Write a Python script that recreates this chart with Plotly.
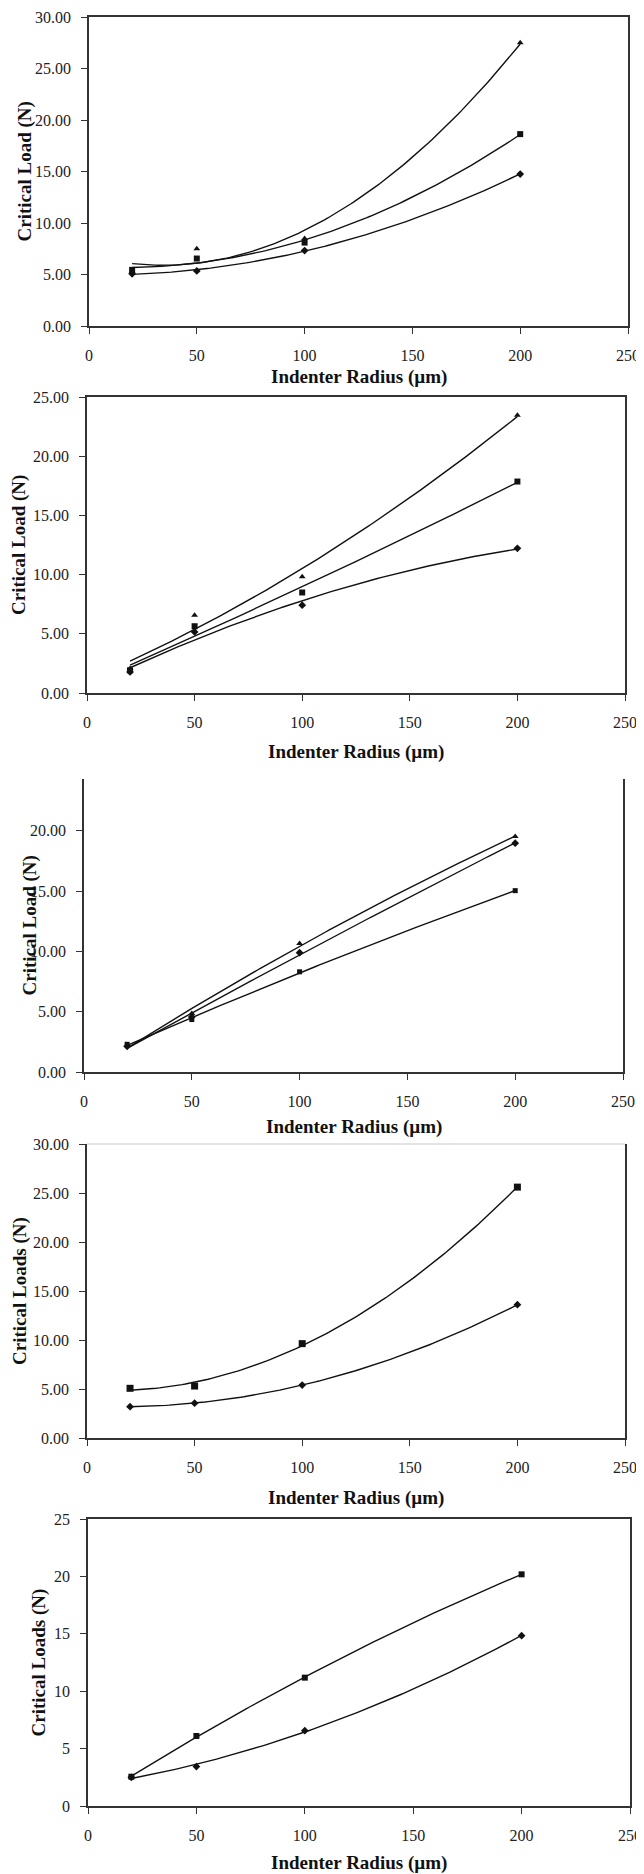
import numpy as np
import plotly.graph_objects as go

# page pixel size and the browser's default body margin offset
PAGE_W, PAGE_H = 644, 1874
OFF = 8
W, H = PAGE_W - OFF, PAGE_H - OFF

# ---------------- data ----------------
radius = [20, 50, 100, 200]

p1_diamond = [5.07, 5.35, 7.32, 14.75]
p1_square = [5.45, 6.55, 8.1, 18.63]
p1_triangle = [5.32, 7.5, 8.5, 27.5]

p2_diamond = [1.78, 5.16, 7.42, 12.22]
p2_square = [1.92, 5.64, 8.49, 17.86]
p2_triangle = [2.06, 6.57, 9.82, 23.45]

p3_low = [2.3, 4.35, 8.31, 15.04]
p3_mid = [2.13, 4.57, 9.9, 18.98]
p3_top = [2.2, 4.85, 10.66, 19.53]

p4_square = [5.07, 5.3, 9.63, 25.6]
p4_diamond = [3.2, 3.55, 5.4, 13.6]

p5_square = [2.55, 6.1, 11.18, 20.18]
p5_diamond = [2.5, 3.43, 6.56, 14.84]

x_title = "Indenter Radius (µm)"
y_titles = ["Critical Load (N)", "Critical Load (N)", "Critical Load (N)",
            "Critical Loads (N)", "Critical Loads (N)"]

# panel page-pixel boxes: left, right, top, bottom
boxes = [(89, 628, 17, 326), (87, 625, 397, 693), (84, 623, 779, 1072),
         (87, 625, 1144, 1438), (88, 630, 1519, 1806)]
y_ranges = [[0, 30], [0, 25], [0, 24.3], [0, 30], [0, 25]]
y_formats = [".2f", ".2f", ".2f", ".2f", "d"]
ytitle_x = [25, 19, 29, 20, 38]
xtitle_y = [377, 752, 1127, 1498, 1863]

panels = [
    [(p1_diamond, "diamond", 6), (p1_square, "square", 6), (p1_triangle, "triangle-up", 6)],
    [(p2_diamond, "diamond", 6), (p2_square, "square", 6), (p2_triangle, "triangle-up", 6)],
    [(p3_low, "square", 5), (p3_mid, "diamond", 6), (p3_top, "triangle-up", 6)],
    [(p4_square, "square", 7), (p4_diamond, "diamond", 6)],
    [(p5_square, "square", 6), (p5_diamond, "diamond", 6)],
]

FONT = "Liberation Serif"
AX = "#333333"


def px_x(p):
    return (p - OFF) / W


def px_y(p):
    return 1 - (p - OFF) / H


fig = go.Figure()
annotations = []
shapes = []

xs = np.array(radius, dtype=float)
xfit = np.linspace(20, 200, 120)

for i, (series, box) in enumerate(zip(panels, boxes)):
    n = i + 1
    xa = "x" if n == 1 else f"x{n}"
    ya = "y" if n == 1 else f"y{n}"
    for vals, sym, size in series:
        coef = np.polyfit(xs, np.array(vals, dtype=float), 2)
        fig.add_trace(go.Scatter(x=xfit, y=np.polyval(coef, xfit), mode="lines",
                                 line=dict(color="#111111", width=1.4),
                                 xaxis=xa, yaxis=ya, showlegend=False, hoverinfo="skip"))
        fig.add_trace(go.Scatter(x=radius, y=vals, mode="markers",
                                 marker=dict(symbol=sym, size=size, color="#111111"),
                                 xaxis=xa, yaxis=ya, showlegend=False))
    l, r, t, b = box
    xdom = [px_x(l), px_x(r)]
    ydom = [px_y(b), px_y(t)]
    top_mirror = (n in (1, 2, 5))
    fig.update_layout(**{
        ("xaxis" if n == 1 else f"xaxis{n}"): dict(
            domain=xdom, range=[0, 250], dtick=50, tick0=0, anchor=ya,
            automargin=False,
            showline=True, linecolor=AX, linewidth=1.5, mirror=top_mirror,
            ticks="outside", ticklen=6, tickcolor=AX, tickwidth=1.3,
            showgrid=False, zeroline=False, ticklabelstandoff=8,
            tickfont=dict(family=FONT, size=16, color="#222222")),
        ("yaxis" if n == 1 else f"yaxis{n}"): dict(
            domain=ydom, range=y_ranges[i], dtick=5, tick0=0, anchor=xa,
            automargin=False,
            showline=True, linecolor=AX, linewidth=1.5, mirror=True,
            ticks="outside", ticklen=6, tickcolor=AX, tickwidth=1.3,
            showgrid=False, zeroline=False, tickformat=y_formats[i],
            ticklabelstandoff=7,
            tickfont=dict(family=FONT, size=16, color="#222222")),
    })
    if n == 4:
        shapes.append(dict(type="line", xref="x4 domain", yref="y4 domain",
                           x0=0, x1=1, y0=1, y1=1,
                           line=dict(color="#c8c8c8", width=1.2)))
    annotations.append(dict(text=x_title, x=px_x((l + r) / 2), y=px_y(xtitle_y[i]),
                            xref="paper", yref="paper", showarrow=False,
                            xanchor="center", yanchor="middle",
                            font=dict(family=FONT, size=19, color="#111111", weight="bold")))
    annotations.append(dict(text=y_titles[i], x=px_x(ytitle_x[i]), y=px_y((t + b) / 2),
                            xref="paper", yref="paper", showarrow=False, textangle=-90,
                            xanchor="center", yanchor="middle",
                            font=dict(family=FONT, size=19, color="#111111", weight="bold")))

fig.update_layout(width=W, height=H,
                  margin=dict(l=0, r=0, t=0, b=0, pad=0, autoexpand=False),
                  paper_bgcolor="white", plot_bgcolor="white",
                  annotations=annotations, shapes=shapes, showlegend=False)

fig.write_html("out.html")
